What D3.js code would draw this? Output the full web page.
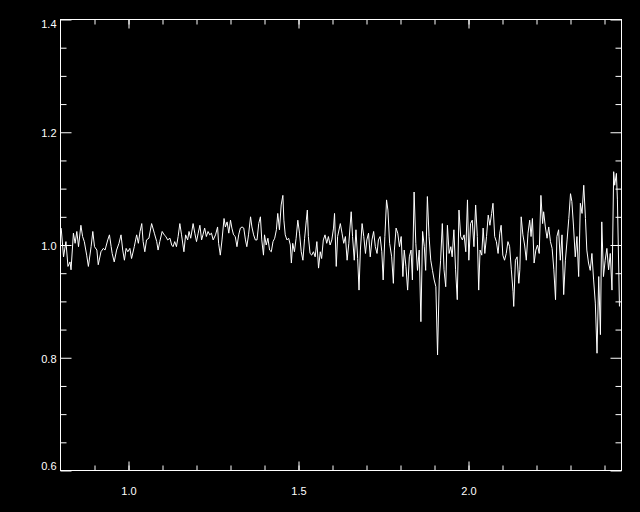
<!DOCTYPE html>
<html><head><meta charset="utf-8">
<script src="https://cdn.jsdelivr.net/npm/d3@7"></script>
<style>html,body{margin:0;padding:0;background:#000;overflow:hidden;}</style>
</head><body>
<svg id="c" width="640" height="512"></svg>
<script>
const wavelength = [
0.802,0.809,0.816,0.822,0.828,0.831,0.838,0.843,0.848,0.853,0.860,0.865,0.870,0.877,0.882,0.890,0.895,0.900,0.907,0.911,0.919,0.926,0.931,0.939,0.944,0.949,0.952,0.958,0.965,0.972,0.978,0.983,0.988,0.993,0.998,1.004,
1.009,1.017,1.024,1.029,1.034,1.039,1.043,1.048,1.053,1.060,1.068,1.076,1.083,1.087,1.092,1.099,1.105,1.110,1.115,1.122,1.127,1.131,1.136,1.141,1.146,1.151,1.156,1.163,1.168,1.174,1.178,1.183,1.190,1.195,
1.200,1.205,1.210,1.215,1.219,1.224,1.229,1.234,1.239,1.244,1.249,1.256,1.262,1.265,1.270,1.275,1.281,1.285,1.290,1.295,1.300,1.304,1.309,1.314,1.319,1.324,1.329,1.334,1.339,1.344,1.348,1.353,1.359,1.363,1.368,1.373,1.378,1.383,1.388,1.392,1.397,
1.400,1.405,1.410,1.415,1.420,1.425,1.430,1.435,1.439,1.444,1.449,1.454,1.457,1.461,1.466,1.471,1.476,1.479,1.483,1.488,1.493,1.498,1.503,1.508,1.513,1.518,1.523,1.526,1.529,1.534,1.539,1.544,1.549,1.554,1.559,1.564,1.568,1.573,1.578,1.583,1.588,1.593,1.598,1.603,1.606,
1.611,1.615,1.623,1.628,1.633,1.638,1.643,1.648,1.655,1.659,1.664,1.669,1.674,1.678,1.682,1.687,1.692,1.697,1.701,1.706,1.711,1.716,1.721,1.726,1.731,1.735,1.740,1.745,1.749,1.754,1.759,1.763,1.768,1.774,1.779,1.782,1.787,1.792,1.797,1.802,1.807,
1.811,1.816,1.821,1.826,1.831,1.835,1.840,1.845,1.850,1.855,1.860,1.865,1.870,1.874,1.879,1.884,1.889,1.894,1.899,1.904,1.909,1.914,1.918,1.923,1.928,1.933,1.938,1.943,1.948,1.952,1.957,1.962,1.967,1.972,1.977,1.982,1.987,1.992,1.997,2.001,2.006,2.011,2.016,
2.021,2.026,2.030,2.034,2.039,2.043,2.048,2.053,2.058,2.063,2.068,2.072,2.077,2.082,2.087,2.092,2.096,2.101,2.106,2.111,2.116,2.121,2.126,2.131,2.133,2.138,2.143,2.148,2.151,2.155,2.160,2.165,2.170,2.175,2.180,2.184,2.188,2.193,2.198,2.203,2.208,2.213,2.218,
2.221,2.226,2.231,2.236,2.241,2.246,2.251,2.256,2.260,2.265,2.270,2.275,2.280,2.285,2.290,2.295,2.300,2.304,2.309,2.314,2.319,2.324,2.329,2.334,2.339,2.344,2.348,2.353,2.358,2.363,2.368,2.373,2.378,2.383,2.388,2.392,2.397,2.402,2.407,2.412,2.417,2.422,2.427,2.430,2.435,2.438,2.444
];
const flux = [
1.030,0.979,1.006,0.962,0.970,0.956,1.021,1.003,1.024,0.997,1.035,1.015,1.006,0.982,0.962,0.997,1.024,0.997,0.991,0.965,0.988,0.994,0.991,1.009,1.018,0.997,0.985,0.970,0.991,1.003,1.018,0.991,0.973,0.994,0.988,0.994,
0.976,0.997,1.018,1.003,1.024,1.038,1.006,0.988,1.009,1.012,1.038,1.021,1.006,0.991,1.006,1.024,1.018,1.015,1.009,1.012,1.000,0.997,1.006,0.997,1.015,1.038,1.018,0.988,1.018,1.009,1.024,1.012,1.038,1.021,
1.006,1.021,1.035,1.009,1.018,1.030,1.015,1.024,1.018,1.021,1.009,1.018,1.032,1.003,0.982,1.009,1.047,1.032,1.041,1.021,1.044,1.030,1.018,1.015,0.997,1.018,1.030,1.032,1.030,1.009,0.997,1.018,1.050,1.032,1.018,1.009,1.009,1.038,1.050,1.009,0.982,
1.018,1.000,1.012,0.991,0.988,1.006,1.012,1.027,1.056,1.027,1.071,1.088,1.044,1.018,1.009,1.012,1.000,0.968,1.003,0.988,1.012,1.044,1.021,0.988,0.973,1.012,1.044,1.062,1.015,0.985,0.982,0.988,0.979,1.006,0.959,0.988,0.976,1.009,1.018,1.003,1.015,1.000,1.009,1.030,1.056,
0.962,1.015,1.038,1.021,1.003,1.015,0.973,1.003,1.059,1.015,0.973,1.027,0.976,0.920,0.991,1.038,1.015,0.985,1.009,1.021,0.979,1.009,1.024,0.997,0.985,1.009,1.015,0.988,0.938,1.015,1.080,1.062,1.003,0.979,0.932,0.991,1.030,1.021,0.997,1.015,0.944,
0.991,0.962,0.920,0.979,0.991,0.938,1.094,1.003,0.955,0.991,0.864,1.024,0.997,0.955,1.086,1.015,0.973,0.955,0.938,0.926,0.805,0.938,0.973,1.038,0.956,0.926,1.035,0.985,0.997,0.979,1.027,0.956,0.903,1.062,1.015,1.009,1.018,0.988,1.080,0.973,1.038,1.044,0.997,
1.071,1.015,0.920,0.991,0.982,1.030,0.985,1.015,1.053,1.035,1.056,1.074,1.015,1.006,0.985,1.021,1.035,0.982,0.973,0.985,1.006,0.997,0.956,0.917,0.891,0.973,0.979,0.932,0.956,1.050,1.018,1.000,0.973,1.021,1.044,1.015,1.047,0.968,0.991,1.000,0.985,1.088,1.038,
1.059,1.032,1.012,1.032,1.006,0.994,0.956,0.903,1.015,1.027,0.973,1.018,0.912,0.973,1.009,1.047,1.091,1.077,1.032,0.979,1.015,0.944,1.074,1.056,1.106,1.047,0.991,0.968,0.955,0.985,0.938,0.897,0.808,0.944,0.841,1.041,0.944,0.973,0.994,0.956,0.985,0.920,1.130,1.106,1.127,1.080,0.891
];
const xDomain = [0.8, 2.45];
const yDomain = [0.6, 1.4];
const xMajorTicks = [1.0, 1.5, 2.0];
const xMinorTicks = [0.9, 1.0, 1.1, 1.2, 1.3, 1.4, 1.5, 1.6, 1.7, 1.8, 1.9, 2.0, 2.1, 2.2, 2.3, 2.4];
const yMajorTicks = [0.6, 0.8, 1.0, 1.2, 1.4];
const yMinorTicks = [0.65, 0.7, 0.75, 0.85, 0.9, 0.95, 1.05, 1.1, 1.15, 1.25, 1.3, 1.35];

const svg = d3.select('#c');
svg.append('rect').attr('width', 640).attr('height', 512).attr('fill', '#000');
const L = 60.5, R = 621.5, T = 19.5, B = 470.5;
const x = d3.scaleLinear().domain(xDomain).range([L, R]);
const y = d3.scaleLinear().domain(yDomain).range([B, T]);
const font = 'Liberation Sans, Arial, Helvetica, sans-serif';

function styleAxis(g) {
  g.select('.domain').remove();
  g.selectAll('line').attr('stroke', '#fff').attr('stroke-width', 1);
  g.selectAll('text').attr('fill', '#fff').attr('font-family', font).attr('font-size', 11);
}
// bottom
svg.append('g').attr('transform', `translate(0,${B})`)
  .call(d3.axisBottom(x).tickValues(xMinorTicks).tickSize(-5).tickFormat(''))
  .call(styleAxis);
svg.append('g').attr('transform', `translate(0,${B})`)
  .call(d3.axisBottom(x).tickValues(xMajorTicks).tickSize(-9).tickPadding(17).tickFormat(d3.format('.1f')))
  .call(styleAxis);
// top
svg.append('g').attr('transform', `translate(0,${T})`)
  .call(d3.axisTop(x).tickValues(xMinorTicks).tickSize(-5).tickFormat(''))
  .call(styleAxis);
svg.append('g').attr('transform', `translate(0,${T})`)
  .call(d3.axisTop(x).tickValues(xMajorTicks).tickSize(-9).tickFormat(''))
  .call(styleAxis);
// left
svg.append('g').attr('transform', `translate(${L},0)`)
  .call(d3.axisLeft(y).tickValues(yMinorTicks).tickSize(-6).tickFormat(''))
  .call(styleAxis);
const yl = svg.append('g').attr('transform', `translate(${L},0)`)
  .call(d3.axisLeft(y).tickValues(yMajorTicks).tickSize(-11).tickPadding(4).tickFormat(d3.format('.1f')))
  .call(styleAxis);
yl.selectAll('text').attr('dy', d => d === 0.6 ? '-0.1em' : (d === 1.4 ? '0.75em' : '0.4em'));
// right
svg.append('g').attr('transform', `translate(${R},0)`)
  .call(d3.axisRight(y).tickValues(yMinorTicks).tickSize(-6).tickFormat(''))
  .call(styleAxis);
svg.append('g').attr('transform', `translate(${R},0)`)
  .call(d3.axisRight(y).tickValues(yMajorTicks).tickSize(-11).tickFormat(''))
  .call(styleAxis);

// frame
svg.append('rect').attr('x', L).attr('y', T).attr('width', R - L).attr('height', B - T)
  .attr('fill', 'none').attr('stroke', '#fff').attr('stroke-width', 1);

const pts = wavelength.map((w, i) => [w, flux[i]]);
svg.append('path').datum(pts)
  .attr('fill', 'none').attr('stroke', '#fff').attr('stroke-width', 1)
  .attr('d', d3.line().x(d => x(d[0])).y(d => y(d[1])));
</script>
</body></html>
